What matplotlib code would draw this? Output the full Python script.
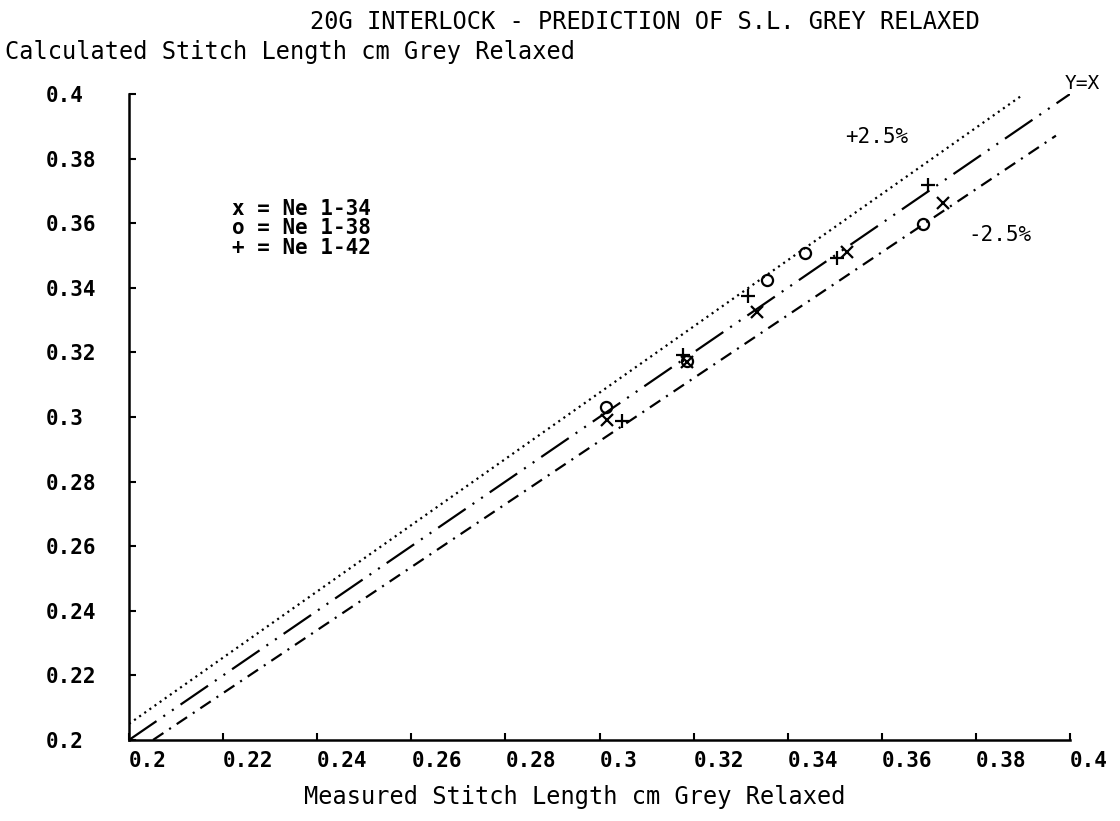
import numpy as np
import matplotlib.pyplot as plt

plt.rcParams['font.family'] = ['DejaVu Sans Mono']
plt.rcParams['lines.scale_dashes'] = False

# measured (x) vs calculated (y) stitch length, cm grey relaxed
ne34_meas = [0.3016, 0.3186, 0.3335, 0.3526, 0.3730]
ne34_calc = [0.2991, 0.3170, 0.3325, 0.3511, 0.3663]

ne38_meas = [0.3014, 0.3186, 0.3356, 0.3437, 0.3688]
ne38_calc = [0.3031, 0.3172, 0.3424, 0.3508, 0.3598]

ne42_meas = [0.3048, 0.3177, 0.3316, 0.3505, 0.3698]
ne42_calc = [0.2988, 0.3192, 0.3375, 0.3492, 0.3718]

# reference lines (endpoints)
yx_x = [0.2, 0.4]
yx_y = [0.2, 0.4]
plus_x = [0.2, 0.39]
plus_y = [0.205, 0.3998]
minus_x = [0.2051, 0.397]
minus_y = [0.2, 0.3871]

ticks = [0.2, 0.22, 0.24, 0.26, 0.28, 0.3, 0.32, 0.34, 0.36, 0.38, 0.4]
tick_labels = ['0.2', '0.22', '0.24', '0.26', '0.28', '0.3', '0.32', '0.34', '0.36', '0.38', '0.4']

fig = plt.figure(figsize=(11.2, 8.21), dpi=100)
ax = fig.add_axes([0.1152, 0.0987, 0.8402, 0.7868])

ax.plot(yx_x, yx_y, color='black', lw=1.6, linestyle=(0, (24, 6, 1.5, 6, 1.5, 6)))
ax.plot(plus_x, plus_y, color='black', lw=1.6, linestyle=(0, (1.5, 3)))
ax.plot(minus_x, minus_y, color='black', lw=1.6, linestyle=(0, (9, 5, 1.5, 5)))

ax.plot(ne34_meas, ne34_calc, 'x', color='black', ms=9, mew=1.6)
ax.plot(ne38_meas, ne38_calc, 'o', mfc='none', mec='black', ms=8, mew=1.6)
ax.plot(ne42_meas, ne42_calc, '+', color='black', ms=10, mew=1.6)

ax.set_xlim(0.2, 0.4)
ax.set_ylim(0.2, 0.4)
ax.spines['top'].set_visible(False)
ax.spines['right'].set_visible(False)
ax.spines['left'].set_linewidth(1.8)
ax.spines['bottom'].set_linewidth(1.8)

ax.set_xticks(ticks)
ax.set_xticklabels(tick_labels, fontsize=15, fontweight='bold', ha='left')
ax.set_yticks(ticks)
ax.set_yticklabels(tick_labels, fontsize=15, fontweight='bold', ha='left')
ax.tick_params(axis='x', direction='in', length=5, width=1.5, pad=8)
ax.tick_params(axis='y', direction='in', length=5, width=1.5, pad=60)

# legend written as text, like the original
legend_rows = ['x = Ne 1-34', 'o = Ne 1-38', '+ = Ne 1-42']
for i, row in enumerate(legend_rows):
    ax.text(0.2219, 0.3644 - i * 0.0060, row, fontsize=15, fontweight='bold', va='center')

ax.text(0.3522, 0.3867, '+2.5%', fontsize=15, va='center')
ax.text(0.3783, 0.3563, '-2.5%', fontsize=15, va='center')
ax.text(0.3989, 0.4031, 'Y=X', fontsize=14, va='center', clip_on=False)

fig.text(645 / 1120, 1 - 22 / 821, '20G INTERLOCK - PREDICTION OF S.L. GREY RELAXED',
         fontsize=17, ha='center', va='center')
fig.text(5 / 1120, 1 - 52 / 821, 'Calculated Stitch Length cm Grey Relaxed',
         fontsize=17, ha='left', va='center')
fig.text(575 / 1120, 1 - 797 / 821, 'Measured Stitch Length cm Grey Relaxed',
         fontsize=17, ha='center', va='center')

fig.savefig('out.png', dpi=100)
